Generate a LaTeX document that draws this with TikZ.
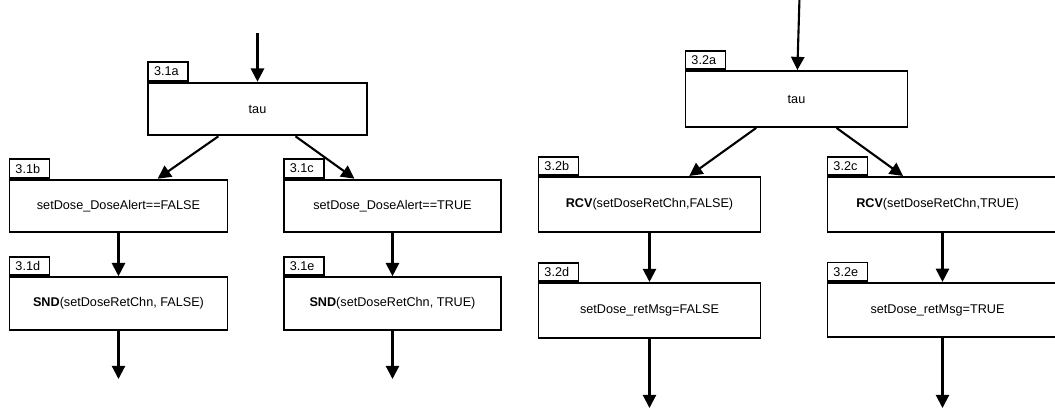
\documentclass[tikz,border=0pt]{standalone}
\usepackage{fontspec}
\setmainfont{Liberation Sans}
\usepackage{tikz}
\usetikzlibrary{arrows.meta}

\begin{document}
\begin{tikzpicture}[x=0.025cm,y=-0.025cm,font=\fontsize{9}{11}\selectfont]
				\useasboundingbox (0,0) rectangle (1055,409);
				\begin{scope}[every node/.style={rectangle,draw,line width=1.3pt,minimum height=1.32cm,inner sep=0pt}]
					\node[minimum width=5.47cm] (s1_a) at (257.5,109) {tau};
					\node[minimum width=5.45cm] (s1_b) at (118.5,206) {setDose\_DoseAlert==FALSE};
					\node[minimum width=5.43cm] (s1_c) at (392.5,206) {setDose\_DoseAlert==TRUE};
					\node[minimum width=5.45cm] (s1_d) at (118.5,303.5) {\textbf{SND}(setDoseRetChn, FALSE)};
					\node[minimum width=5.43cm] (s1_e) at (392.5,303.5) {\textbf{SND}(setDoseRetChn, TRUE)};

					\node[minimum width=5.55cm,minimum height=1.4cm] (s2_a) at (796.5,99) {tau};
					\node[minimum width=5.55cm,minimum height=1.38cm] (s2_b) at (649.5,204.5) {\textbf{RCV}(setDoseRetChn,FALSE)};
					\node[minimum width=5.75cm,minimum height=1.38cm] (s2_c) at (942.5,204.5) {\hspace*{-0.25cm}\textbf{RCV}(setDoseRetChn,TRUE)};
					\node[minimum width=5.55cm,minimum height=1.38cm] (s2_d) at (649.5,310.5) {setDose\_retMsg=FALSE};
					\node[minimum width=5.75cm,minimum height=1.36cm] (s2_e) at (942.5,310) {\hspace*{-0.25cm}setDose\_retMsg=TRUE};
				\end{scope}
				\begin{scope}[every node/.style={rectangle,draw,line width=1.3pt,anchor=south west,minimum width=1cm,minimum height=0.46cm,inner sep=0pt,inner xsep=0.15cm,text width=0.7cm,align=left}]
					\node (t1_a) at (s1_a.north west) {3.1a};
					\node (t1_b) at (s1_b.north west) {3.1b};
					\node (t1_c) at (s1_c.north west) {3.1c};
					\node (t1_d) at (s1_d.north west) {3.1d};
					\node (t1_e) at (s1_e.north west) {3.1e};

					\node (t2_a) at (s2_a.north west) {3.2a};
					\node (t2_b) at (s2_b.north west) {3.2b};
					\node (t2_c) at (s2_c.north west) {3.2c};
					\node (t2_d) at (s2_d.north west) {3.2d};
					\node (t2_e) at (s2_e.north west) {3.2e};
				\end{scope}
				% loose ends of the two flows
				\coordinate (in_1) at (257.5,33);
				\coordinate (in_2) at (799.5,-2);
				\coordinate (out_1d) at (118.5,379);
				\coordinate (out_1e) at (392.5,379);
				\coordinate (out_2d) at (649.5,408);
				\coordinate (out_2e) at (942.5,408);
				\begin{scope}[line width=1.5pt,>={Triangle[length=0.33cm,width=0.33cm]}]
					\path [->] (in_1) edge node {} (s1_a);
					\path [->] (s1_a) edge node {} (s1_b);
					\path [->] (s1_a) edge node {} (s1_c);
					\path [->] (s1_b) edge node {} (s1_d);
					\path [->] (s1_c) edge node {} (s1_e);
					\path [->] (s1_d) edge node {} (out_1d);
					\path [->] (s1_e) edge node {} (out_1e);

					\path [->] (in_2) edge node {} (s2_a);
					\path [->] (s2_a) edge node {} (s2_b);
					\path [->] (s2_a) edge node {} (s2_c);
					\path [->] (s2_b) edge node {} (s2_d);
					\path [->] (s2_c) edge node {} (s2_e);
					\path [->] (s2_d) edge node {} (out_2d);
					\path [->] (s2_e) edge node {} (out_2e);
				\end{scope}
			\end{tikzpicture}
\end{document}
